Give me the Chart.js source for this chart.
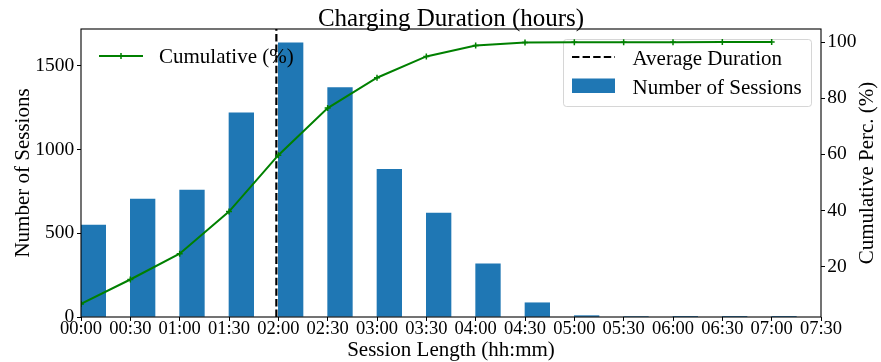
<!DOCTYPE html>
<html>
<head>
<meta charset="utf-8">
<script src="https://cdn.jsdelivr.net/npm/chart.js@4.4.1/dist/chart.umd.min.js"></script>
<style>
html,body{margin:0;padding:0;background:#fff;}
#wrap{width:881px;height:362px;position:relative;}
</style>
</head>
<body>
<div id="wrap"><canvas id="c" width="881" height="362"></canvas></div>
<script>
// ---- data ----
const categories = ['00:00','00:30','01:00','01:30','02:00','02:30','03:00','03:30','04:00','04:30','05:00','05:30','06:00','06:30','07:00'];
const sessions = [549, 704, 758, 1220, 1639, 1371, 883, 621, 317, 85, 8, 3, 2, 2, 1];
const cumulative = [6.7, 15.4, 24.6, 39.6, 59.7, 76.5, 87.3, 94.9, 98.8, 99.85, 99.95, 99.97, 99.98, 99.99, 100];
const xTickLabels = ['00:00','00:30','01:00','01:30','02:00','02:30','03:00','03:30','04:00','04:30','05:00','05:30','06:00','06:30','07:00','07:30'];
const leftTicks = [0, 500, 1000, 1500];
const rightTicks = [20, 40, 60, 80, 100];
const averageDuration = 1.98; // hours

const FONT = '"Liberation Serif", "Times New Roman", serif';
const toHours = s => { const [h, m] = s.split(':').map(Number); return h + m / 60; };
const fmt = v => { const t = Math.round(v * 60); const h = Math.floor(t / 60), m = t % 60; return String(h).padStart(2,'0') + ':' + String(m).padStart(2,'0'); };

const hours = categories.map(toHours);
const barData = hours.map((x, i) => ({ x, y: sessions[i] }));
const placeholder = hours.map(x => ({ x, y: 0 }));
const lineData = hours.map((x, i) => ({ x, y: cumulative[i] }));
const sMax = Math.max(...sessions) * 1.05;
const cMin = Math.min(...cumulative), cMax = Math.max(...cumulative);
const cPad = (cMax - cMin) * 0.05;
const avgData = [{ x: averageDuration, y: 0 }, { x: averageDuration, y: sMax * 2 }];

const BLUE = '#1f77b4', GREEN = '#008000';

const decor = {
  id: 'decor',
  beforeDatasetDraw(chart, args) {
    if (args.index !== 0) return;
    const ctx = chart.ctx;
    ctx.save();
    // legend 2 box
    const x = 563.5, y = 39.5, w = 248, h = 67, r = 3;
    ctx.beginPath();
    ctx.moveTo(x + r, y);
    ctx.arcTo(x + w, y, x + w, y + h, r);
    ctx.arcTo(x + w, y + h, x, y + h, r);
    ctx.arcTo(x, y + h, x, y, r);
    ctx.arcTo(x, y, x + w, y, r);
    ctx.closePath();
    ctx.fillStyle = 'rgba(255,255,255,0.8)';
    ctx.fill();
    ctx.strokeStyle = 'rgba(204,204,204,0.8)';
    ctx.lineWidth = 1;
    ctx.stroke();
    // dashed sample
    ctx.beginPath();
    ctx.setLineDash([7.4, 3.2]);
    ctx.strokeStyle = '#000';
    ctx.lineWidth = 2;
    ctx.moveTo(572, 57);
    ctx.lineTo(615, 57);
    ctx.stroke();
    ctx.setLineDash([]);
    // patch
    ctx.fillStyle = BLUE;
    ctx.fillRect(572, 78.5, 43, 14.5);
    ctx.fillStyle = '#000';
    ctx.font = '21px ' + FONT;
    ctx.textBaseline = 'alphabetic';
    ctx.textAlign = 'left';
    ctx.fillText('Average Duration', 632.5, 64.5);
    ctx.fillText('Number of Sessions', 632.5, 93.5);
    ctx.restore();
  },
  afterDatasetsDraw(chart) {
    const ctx = chart.ctx, a = chart.chartArea;
    ctx.save();
    // spines
    ctx.strokeStyle = '#000';
    ctx.lineWidth = 1.1;
    ctx.strokeRect(a.left, a.top, a.right - a.left, a.bottom - a.top);
    // legend 1
    ctx.strokeStyle = GREEN;
    ctx.lineWidth = 2;
    ctx.beginPath();
    ctx.moveTo(99, 56); ctx.lineTo(143, 56);
    ctx.stroke();
    ctx.lineWidth = 1.5;
    ctx.beginPath();
    ctx.moveTo(118, 56); ctx.lineTo(124, 56);
    ctx.moveTo(121, 53); ctx.lineTo(121, 59);
    ctx.stroke();
    ctx.fillStyle = '#000';
    ctx.font = '21px ' + FONT;
    ctx.textBaseline = 'alphabetic';
    ctx.textAlign = 'left';
    ctx.fillText('Cumulative (%)', 159, 63);
    ctx.restore();
  },
  afterDraw(chart) {
    const ctx = chart.ctx, a = chart.chartArea;
    const cx = (a.left + a.right) / 2, cy = (a.top + a.bottom) / 2;
    ctx.save();
    ctx.fillStyle = '#000';
    ctx.textBaseline = 'alphabetic';
    ctx.textAlign = 'center';
    ctx.font = '25px ' + FONT;
    ctx.fillText('Charging Duration (hours)', cx, 26);
    ctx.font = '21px ' + FONT;
    ctx.fillText('Session Length (hh:mm)', cx, 356);
    ctx.save();
    ctx.translate(28.5, cy);
    ctx.rotate(-Math.PI / 2);
    ctx.fillText('Number of Sessions', 0, 0);
    ctx.restore();
    ctx.save();
    ctx.translate(873, cy);
    ctx.rotate(-Math.PI / 2);
    ctx.fillText('Cumulative Perc. (%)', 0, 0);
    ctx.restore();
    ctx.restore();
  }
};

const gridOpts = { display: true, drawOnChartArea: false, drawTicks: true, tickLength: 4, color: '#000', lineWidth: 1, offset: false };

new Chart(document.getElementById('c'), {
  data: {
    datasets: [
      { type: 'line', label: 'Cumulative (%)', data: lineData, yAxisID: 'y2', xAxisID: 'x', order: 0,
        borderColor: GREEN, backgroundColor: GREEN, borderWidth: 2, tension: 0, fill: false,
        pointStyle: 'cross', pointRadius: 3, pointBorderWidth: 1.5, pointBorderColor: GREEN },
      { type: 'line', label: 'Average Duration', data: avgData, yAxisID: 'y', xAxisID: 'x', order: 1,
        borderColor: '#000', borderWidth: 2.2, borderDash: [7.4, 3.2], pointRadius: 0, fill: false },
      { type: 'bar', label: '', data: placeholder, yAxisID: 'y', xAxisID: 'x', order: 2,
        backgroundColor: 'rgba(0,0,0,0)', borderWidth: 0, categoryPercentage: 1, barPercentage: 1 },
      { type: 'bar', label: 'Number of Sessions', data: barData, yAxisID: 'y', xAxisID: 'x', order: 3,
        backgroundColor: BLUE, borderWidth: 0, categoryPercentage: 1, barPercentage: 1 }
    ]
  },
  options: {
    responsive: false,
    devicePixelRatio: 1,
    animation: false,
    events: [],
    layout: { padding: { top: 29, left: 0, right: 0, bottom: 0 } },
    plugins: { legend: { display: false }, title: { display: false }, tooltip: { enabled: false } },
    scales: {
      x: {
        type: 'linear', position: 'bottom', offset: false,
        min: toHours(xTickLabels[0]), max: toHours(xTickLabels[xTickLabels.length - 1]),
        grid: gridOpts, border: { display: false },
        afterBuildTicks: s => { s.ticks = xTickLabels.map(l => ({ value: toHours(l) })); },
        ticks: { color: '#000', padding: -1.5, maxRotation: 0, autoSkip: false, font: { family: FONT, size: 18.5, lineHeight: 1 },
          callback: v => fmt(v) },
        afterFit: s => { s.height = 45; }
      },
      y: {
        type: 'linear', position: 'left', min: 0, max: sMax,
        grid: gridOpts, border: { display: false },
        afterBuildTicks: s => { s.ticks = leftTicks.map(v => ({ value: v })); },
        ticks: { color: '#000', padding: 2.7, font: { family: FONT, size: 19.5 }, callback: v => String(v) },
        afterFit: s => { s.width = 81; }
      },
      y2: {
        type: 'linear', position: 'right', min: cMin - cPad, max: cMax + cPad,
        grid: gridOpts, border: { display: false },
        afterBuildTicks: s => { s.ticks = rightTicks.map(v => ({ value: v })); },
        ticks: { color: '#000', padding: 2.3, font: { family: FONT, size: 19.5 }, callback: v => String(v) },
        afterFit: s => { s.width = 60; }
      }
    }
  },
  plugins: [decor]
});
</script>
</body>
</html>
